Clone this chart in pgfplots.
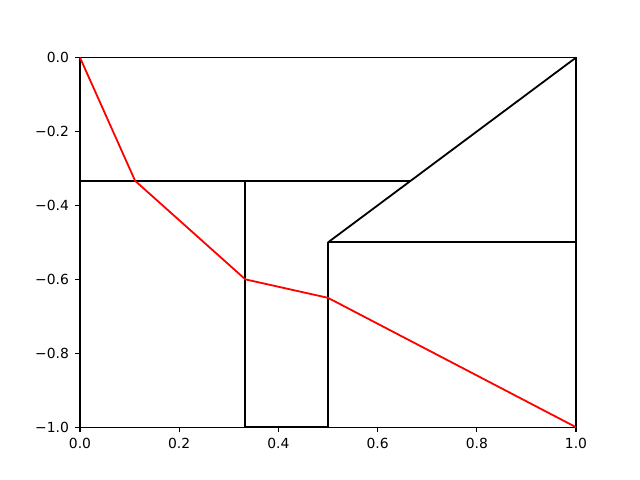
\documentclass[border=0pt]{standalone}
\usepackage{pgfplots}
\pgfplotsset{compat=1.18}
\usepackage{fontspec}
\setmainfont{DejaVu Sans}

\begin{document}
\begin{tikzpicture}
% figure frame of the 6.4in x 4.8in canvas
\useasboundingbox (-57.6pt,-38.02pt) rectangle (403.2pt,307.58pt);
\begin{axis}[
  at={(0pt,0pt)}, anchor=south west,
  scale only axis,
  width=357.12pt, height=266.11pt,
  xmin=0, xmax=1, ymin=-1, ymax=0,
  clip=false,
  axis line style={line width=0.8pt},
  tick align=outside,
  major tick length=3.5pt,
  every tick/.style={line width=0.8pt, black},
  xtick pos=bottom, ytick pos=left,
  xtick={0,0.2,0.4,0.6,0.8,1},
  xticklabels={0.0,0.2,0.4,0.6,0.8,1.0},
  ytick={-1,-0.8,-0.6,-0.4,-0.2,0},
  yticklabels={−1.0,−0.8,−0.6,−0.4,−0.2,0.0},
  tick label style={font=\fontsize{10}{12}\selectfont},
  xticklabel style={yshift=-1pt},
  yticklabel style={xshift=-1pt},
]
% black outline segments
\addplot[black, line width=1.3pt] coordinates {(0,-0.3333) (0.6667,-0.3333)};
\addplot[black, line width=1.3pt] coordinates {(0.5,-0.5) (1,0)};
\addplot[black, line width=1.3pt] coordinates {(0.5,-0.5) (1,-0.5)};
\addplot[black, line width=1.3pt] coordinates {(0.3333,-0.3333) (0.3333,-1)};
\addplot[black, line width=1.3pt] coordinates {(0.5,-0.5) (0.5,-1)};
\addplot[black, line width=1.3pt] coordinates {(1,0) (1,-1)};
\addplot[black, line width=1.3pt] coordinates {(0.3333,-1) (0.5,-1)};
% red path
\addplot[red, line width=1.3pt] coordinates {
  (0,0) (0.1111,-0.3333) (0.3333,-0.6) (0.5,-0.65) (1,-1)
};
\end{axis}
\end{tikzpicture}
\end{document}
